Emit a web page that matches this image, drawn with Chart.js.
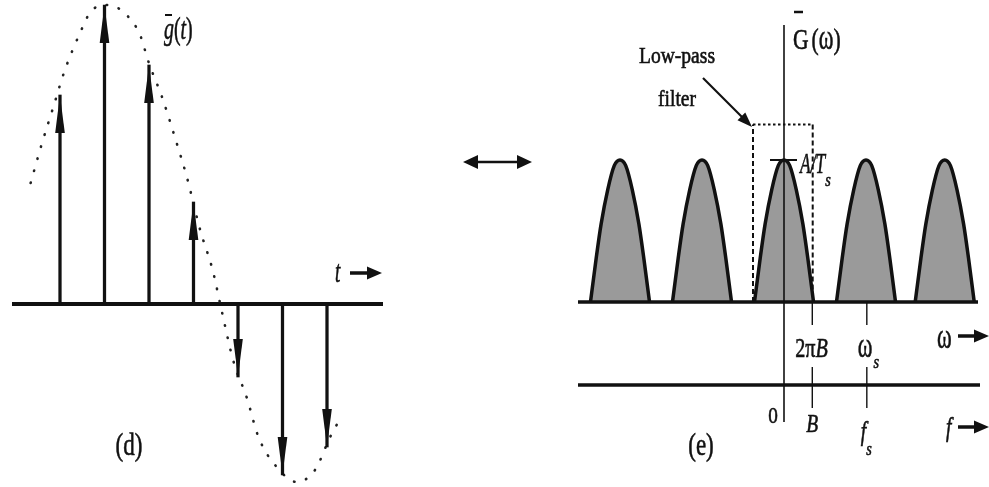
<!DOCTYPE html>
<html>
<head>
<meta charset="utf-8">
<script src="https://cdn.jsdelivr.net/npm/chart.js@4/dist/chart.umd.min.js"></script>
<style>
  html, body { margin: 0; padding: 0; background: #fff; width: 989px; height: 487px; overflow: hidden; }
  canvas { position: absolute; top: 0; }
  #timeChart { left: 0; }
  #specChart { left: 560px; }
</style>
</head>
<body>
<canvas id="timeChart" width="560" height="487"></canvas>
<canvas id="specChart" width="429" height="487"></canvas>
<script>
// ---- (d) sampled signal: impulse positions (sample index) and strengths
const sampleIndex  = [1, 2, 3, 4, 5, 6, 7];
const sampleValues = [2.09, 2.99, 2.39, 1.02, -0.73, -1.71, -1.43];

// underlying continuous signal g(t), drawn dotted
const signalT = [0.34, 0.59, 0.85, 1.11, 1.45, 1.67, 1.97, 2.20, 2.54, 2.80, 2.99, 3.30, 3.58,
                 3.85, 4.15, 4.43, 4.63, 4.89, 5.20, 5.46, 5.87, 6.32, 6.73, 7.07, 7.28];
const signalV = [1.21, 1.60, 1.97, 2.34, 2.71, 2.91, 2.99, 2.98, 2.87, 2.69, 2.42, 2.06, 1.67,
                 1.27, 0.74, 0.34, -0.06, -0.56, -0.94, -1.33, -1.63, -1.78, -1.66, -1.33, -1.16];

// ---- (e) spectrum: replicated copies of G(w) (w in units where ws = 10)
const lobeCenters = [-20, -10, 0, 10, 19.6];
const lobeOffsets = [-3.6, -2.9, -2.3, -1.5, -0.7, 0, 0.7, 1.5, 2.3, 2.9, 3.6];
const lobeLevels  = [0, 0.31, 0.55, 0.79, 0.96, 1, 0.96, 0.79, 0.55, 0.31, 0];

// ideal low-pass filter (edges in w, gain relative to A/Ts)
const filterEdges = [-3.78, 3.5];
const filterGain  = 1.25;

// frequency-axis ticks: 2*pi*B and ws, with their f counterparts B and fs
const omegaTicks = [3.45, 10.1];
const peakLevel  = 1;   // A/Ts

const SERIF = '"Liberation Serif", "Times New Roman", serif';

function drawText(ctx, s, x, y, size, opt) {
  opt = opt || {};
  const sx = opt.sx || 1;
  ctx.save();
  ctx.font = (opt.italic ? 'italic ' : '') + size + 'px ' + SERIF;
  ctx.fillStyle = '#111';
  ctx.strokeStyle = '#111';
  ctx.lineWidth = 0.6;
  ctx.textBaseline = 'alphabetic';
  const w = ctx.measureText(s).width * sx;
  let left = x;
  if (opt.align === 'center') left = x - w / 2;
  else if (opt.align === 'right') left = x - w;
  ctx.translate(left, y);
  ctx.scale(sx, 1);
  ctx.fillText(s, 0, 0);
  ctx.strokeText(s, 0, 0);
  ctx.restore();
  return left + w;
}

function line(ctx, x1, y1, x2, y2, w) {
  ctx.save();
  ctx.strokeStyle = '#111';
  ctx.lineWidth = w;
  ctx.beginPath();
  ctx.moveTo(x1, y1);
  ctx.lineTo(x2, y2);
  ctx.stroke();
  ctx.restore();
}

function arrowHead(ctx, tipX, tipY, dirX, dirY, len, half) {
  const n = Math.hypot(dirX, dirY);
  const ux = dirX / n, uy = dirY / n;
  const bx = tipX - ux * len, by = tipY - uy * len;
  ctx.save();
  ctx.fillStyle = '#111';
  ctx.beginPath();
  ctx.moveTo(tipX, tipY);
  ctx.lineTo(bx - uy * half, by + ux * half);
  ctx.lineTo(bx + uy * half, by - ux * half);
  ctx.closePath();
  ctx.fill();
  ctx.restore();
}

function rightArrow(ctx, x1, x2, y) {
  line(ctx, x1, y, x2 - 10, y, 3.5);
  arrowHead(ctx, x2, y, 1, 0, 15, 6.5);
}

// ---------- time-domain panel ----------
const timeDecor = {
  id: 'timeDecor',
  beforeDatasetsDraw(chart) {
    const ctx = chart.ctx;
    const y0 = chart.scales.y.getPixelForValue(0);
    line(ctx, 12, y0, 383, y0, 4);
  },
  afterDatasetsDraw(chart) {
    const ctx = chart.ctx;
    const meta = chart.getDatasetMeta(0);
    meta.data.forEach((el, i) => {
      const up = sampleValues[i] > 0;
      arrowHead(ctx, el.x, el.y, 0, up ? -1 : 1, 38, 4.8);
    });
  },
  afterDraw(chart) {
    const ctx = chart.ctx;
    // g-bar(t)
    let x = drawText(ctx, 'g', 164, 39, 32, { italic: true, sx: 0.62 });
    x = drawText(ctx, '(', x, 39, 32, { sx: 0.62 });
    x = drawText(ctx, 't', x, 39, 32, { italic: true, sx: 0.62 });
    drawText(ctx, ')', x, 39, 32, { sx: 0.62 });
    line(ctx, 165, 15, 172, 15, 2);
    // t ->
    drawText(ctx, 't', 335, 282, 32, { italic: true, sx: 0.6 });
    rightArrow(ctx, 350, 382, 273);
    // (d)
    drawText(ctx, '(d)', 129, 455, 32, { align: 'center', sx: 0.72 });
    // transform-pair double arrow
    line(ctx, 474, 162, 521, 162, 2.5);
    arrowHead(ctx, 463, 162, -1, 0, 15, 7);
    arrowHead(ctx, 532, 162, 1, 0, 15, 7);
  }
};

new Chart(document.getElementById('timeChart'), {
  type: 'bar',
  data: {
    datasets: [
      {
        type: 'bar',
        data: sampleIndex.map((t, i) => ({ x: t, y: sampleValues[i] })),
        backgroundColor: '#111',
        borderWidth: 0,
        barThickness: 2.6
      },
      {
        type: 'line',
        data: signalT.map((t, i) => ({ x: t, y: signalV[i] })),
        borderColor: '#222',
        borderWidth: 2.6,
        borderCapStyle: 'round',
        borderDash: [0.5, 12],
        cubicInterpolationMode: 'monotone',
        pointRadius: 0,
        fill: false
      }
    ]
  },
  options: {
    responsive: false,
    animation: false,
    devicePixelRatio: 1,
    layout: { padding: 0 },
    plugins: { legend: { display: false }, tooltip: { enabled: false } },
    scales: {
      x: { type: 'linear', min: -0.3483, max: 12.236, offset: false, display: false },
      y: { type: 'linear', min: -1.83, max: 3.04, display: false }
    }
  },
  plugins: [timeDecor]
});

// ---------- spectrum panel ----------
const specDecor = {
  id: 'specDecor',
  afterDatasetsDraw(chart) {
    const ctx = chart.ctx;
    const xs = chart.scales.x, ys = chart.scales.y;
    const x0 = xs.getPixelForValue(0);
    const y0 = ys.getPixelForValue(0);
    const fAxisY = 385;
    // vertical axis
    line(ctx, x0, 25, x0, 422, 1.6);
    // w axis and f axis
    line(ctx, 18, y0, 418, y0, 3.5);
    line(ctx, 18, fAxisY, 420, fAxisY, 3.5);
    // ticks
    omegaTicks.forEach(v => {
      const px = xs.getPixelForValue(v);
      line(ctx, px, y0 + 1, px, 325, 1.4);
      line(ctx, px, 367, px, 408, 1.4);
    });
    // A/Ts marker
    const yp = ys.getPixelForValue(peakLevel);
    line(ctx, x0 - 14, yp, x0 + 13, yp, 2);
  },
  afterDraw(chart) {
    const ctx = chart.ctx;
    const xs = chart.scales.x;
    const x0 = xs.getPixelForValue(0);
    const xB = xs.getPixelForValue(omegaTicks[0]);
    const xS = xs.getPixelForValue(omegaTicks[1]);
    // G-bar(w)
    let x = drawText(ctx, 'G', 233, 49, 30, { sx: 0.72 });
    x = drawText(ctx, '(', x + 3, 49, 30, { sx: 0.72 });
    x = drawText(ctx, 'ω', x, 49, 36, { sx: 0.62 });
    drawText(ctx, ')', x, 49, 30, { sx: 0.72 });
    line(ctx, 234, 12, 243, 12, 2.5);
    // Low-pass filter label and pointer
    drawText(ctx, 'Low-pass', 117, 63, 23, { align: 'center', sx: 0.85 });
    drawText(ctx, 'filter', 117, 106, 23, { align: 'center', sx: 0.85 });
    line(ctx, 143, 78, 184, 119, 2.2);
    arrowHead(ctx, 192, 127, 1, 1, 15, 5.5);
    // A/Ts
    x = drawText(ctx, 'A/T', x0 + 16, 173, 30, { italic: true, sx: 0.58 });
    drawText(ctx, 's', x, 186, 19, { italic: true, sx: 0.75 });
    // 2*pi*B, ws
    x = drawText(ctx, '2π', xB - 17, 357, 28, { sx: 0.72 });
    drawText(ctx, 'B', x, 357, 28, { italic: true, sx: 0.72 });
    x = drawText(ctx, 'ω', xS - 9, 357, 36, { sx: 0.62 });
    drawText(ctx, 's', x + 1, 368, 19, { italic: true, sx: 0.75 });
    // w ->
    drawText(ctx, 'ω', 377, 348, 36, { sx: 0.62 });
    rightArrow(ctx, 398, 429, 336);
    // 0, B, fs
    drawText(ctx, '0', x0 - 11, 423, 24, { align: 'center', sx: 0.8 });
    drawText(ctx, 'B', xB, 432, 26, { italic: true, align: 'center', sx: 0.75 });
    x = drawText(ctx, 'f', xS - 6, 440, 28, { italic: true, sx: 0.7 });
    drawText(ctx, 's', x, 455, 19, { italic: true, sx: 0.75 });
    // f ->
    drawText(ctx, 'f', 386, 436, 28, { italic: true, sx: 0.7 });
    rightArrow(ctx, 398, 429, 427);
    // (e)
    drawText(ctx, '(e)', 141, 455, 32, { align: 'center', sx: 0.72 });
  }
};

const lobeSets = lobeCenters.map(c => ({
  type: 'line',
  data: lobeOffsets.map((o, i) => ({ x: c + o, y: lobeLevels[i] })),
  borderColor: '#111',
  borderWidth: 3.5,
  borderJoinStyle: 'round',
  backgroundColor: '#9a9a9a',
  fill: 'origin',
  cubicInterpolationMode: 'monotone',
  pointRadius: 0
}));

// filter outline: dashed sides, dotted top
function filterEdge(points, dash) {
  return {
    type: 'line',
    data: points,
    borderColor: '#111',
    borderWidth: 2,
    borderDash: dash,
    fill: false,
    pointRadius: 0,
    tension: 0
  };
}
const filterSets = [
  filterEdge([{ x: filterEdges[0], y: 0 }, { x: filterEdges[0], y: filterGain }], [5, 3]),
  filterEdge([{ x: filterEdges[0], y: filterGain }, { x: filterEdges[1], y: filterGain }], [2.5, 2.5]),
  filterEdge([{ x: filterEdges[1], y: filterGain }, { x: filterEdges[1], y: 0 }], [5, 3])
];

new Chart(document.getElementById('specChart'), {
  type: 'line',
  data: { datasets: [...lobeSets, ...filterSets] },
  options: {
    responsive: false,
    animation: false,
    devicePixelRatio: 1,
    layout: { padding: 0 },
    plugins: { legend: { display: false }, tooltip: { enabled: false } },
    scales: {
      x: { type: 'linear', min: -27.317, max: 25.0, offset: false, display: false },
      y: { type: 'linear', min: -1.3028, max: 2.1268, display: false }
    }
  },
  plugins: [specDecor]
});
</script>
</body>
</html>
